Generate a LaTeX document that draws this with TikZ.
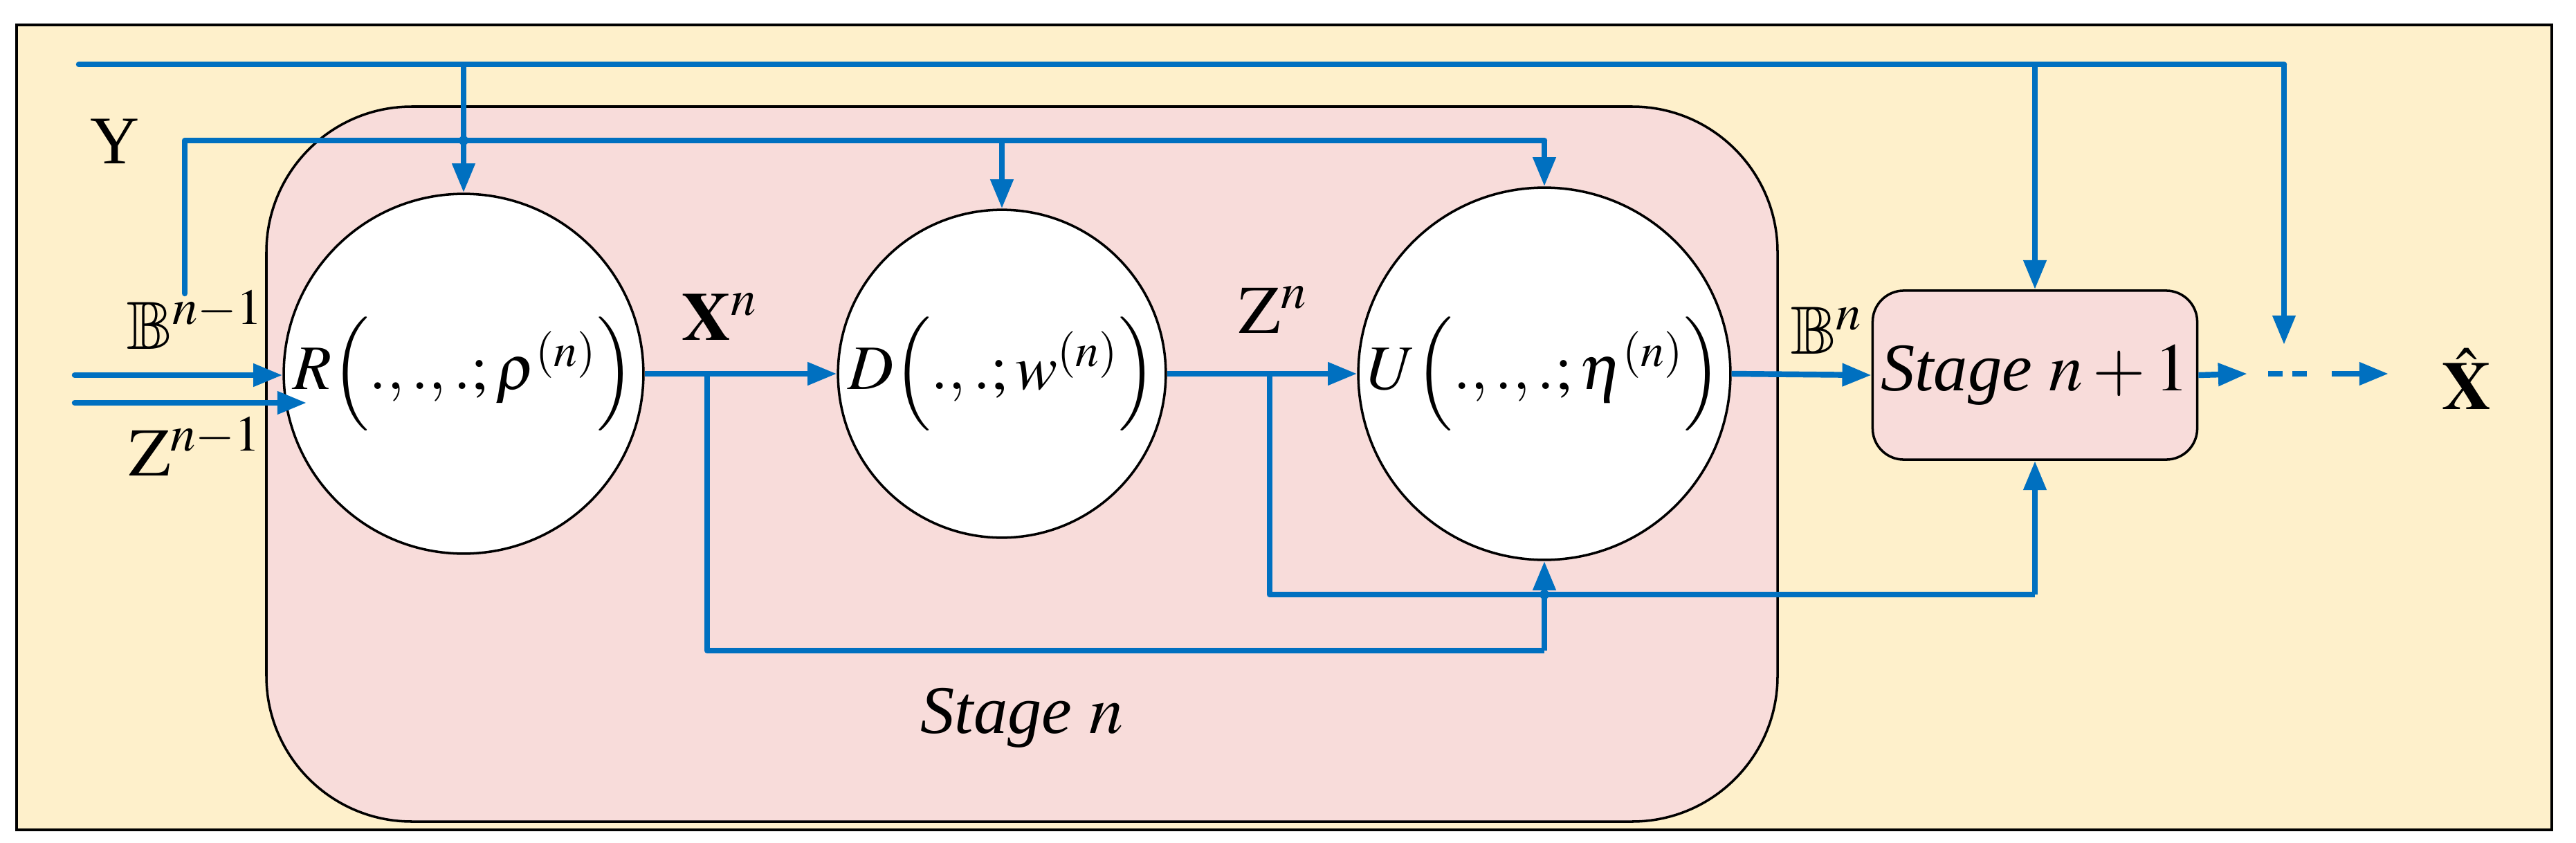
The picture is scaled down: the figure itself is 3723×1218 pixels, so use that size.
\documentclass[tikz,border=0pt]{standalone}
\usepackage{mathptmx}
\usepackage{amssymb}
\usepackage[no-math]{fontspec}
\setmainfont{Liberation Serif}
\usetikzlibrary{arrows.meta}
\definecolor{bgy}{HTML}{FEF0CB}
\definecolor{pinkf}{HTML}{F8DCDA}
\definecolor{bl}{HTML}{0070C0}
\begin{document}
\begin{tikzpicture}[x=0.01cm,y=-0.01cm,
  font=\fontsize{28}{34}\selectfont,
  ln/.style={bl,line width=2.4pt},
  ar/.style={ln,-{Triangle[length=12pt,width=9pt]}},
  circ/.style={circle,draw=black,line width=1pt,fill=white,minimum size=4.6cm,inner sep=0pt,font=\fontsize{26}{30}\selectfont},
  lab/.style={inner sep=0pt}]
\useasboundingbox (0,0) rectangle (3723,1218);
\draw[line width=1.2pt,fill=bgy] (24,36) rectangle (3688,1199);
\draw[line width=1pt,fill=pinkf,rounded corners=2.1cm] (385,154) rectangle (2569,1187);
\node[circ] (R) at (670,540) {$R\Big(.,.,.;\rho^{(n)}\Big)$};
\node[circ] (D) at (1448,540) {$D\Big(.,.;w^{(n)}\Big)$};
\node[circ] (U) at (2232,540) {$U\Big(.,.,.;\eta^{(n)}\Big)$};
\node[draw=black,line width=1pt,fill=pinkf,rounded corners=0.45cm,minimum width=4.62cm,minimum height=2.44cm] (S) at (2941,542) {\textit{Stage} $n+1$};
\node[lab] at (1477,1037) {\textit{Stage} $n$};
% labels
\node[lab] (lY) at (166,204) {Y};
\node[lab] (lB) at (282,462) {$\mathbb{B}^{n-1}$};
\node[lab] (lZ) at (282,645) {$\mathrm{Z}^{n-1}$};
\node[lab] (lX) at (1040,458) {$\mathbf{X}^{n}$};
\node[lab] (lZn) at (1840,448) {$\mathrm{Z}^{n}$};
\node[lab] (lBn) at (2640,478) {$\mathbb{B}^{n}$};
\node[lab] (lXh) at (3565,548) {$\hat{\mathbf{X}}$};
% coordinates
\coordinate (y0) at (114,93);
\coordinate (y1) at (3301,93);
\coordinate (b0) at (267,424);
\coordinate (b1) at (267,203);
\coordinate (b2) at (2232,203);
\coordinate (xa) at (1022,540);
\coordinate (xb) at (1022,940);
\coordinate (xc) at (2232,940);
\coordinate (za) at (1835,540);
\coordinate (zb) at (1835,859);
\coordinate (zc) at (2941,859);
\coordinate (i1) at (108,542);
\coordinate (i2) at (108,582);
\coordinate (d1) at (3248,540);
\coordinate (d2) at (3278,540);
\coordinate (d3) at (3340,540);
\coordinate (d4) at (3370,540);
\coordinate (d5) at (3452,540);
% Y line
\draw[ln,line cap=round] (y0) -- (y1);
\draw[ar] (y1) -- (3301,498);
\draw[ar] (670,93) -- (R.north);
\draw[ar] (2941,93) -- (S.north);
% B line
\draw[ln,line cap=round,line join=round] (b0) -- (b1) -- (b2);
\draw[ar] (b2) -- (U.north);
\draw[ar] (1448,203) -- (D.north);
\fill[bl] (670,203) circle (7);
% inputs
\draw[ar,line cap=round] (i1) -- (R.west |- i1);
\draw[ar,line cap=round] (i2) -- (443,582);
% main flow
\draw[ar] (R.east) -- (D.west);
\draw[ar] (D.east) -- (U.west);
\draw[ar] (U.east) -- (S.west);
\draw[ar] (S.east) -- (d1);
\draw[ln,dash pattern=on 6pt off 4pt] (d2) -- (d3);
\draw[ar] (d4) -- (d5);
% feedback
\draw[ln,line join=round] (xa) -- (xb) -- (xc);
\draw[ar] (xc) -- (U.south);
\draw[ln,line join=round] (za) -- (zb) -- (zc);
\draw[ar] (zc) -- (S.south);
\fill[bl] (2232,859) circle (7);
\end{tikzpicture}
\end{document}
